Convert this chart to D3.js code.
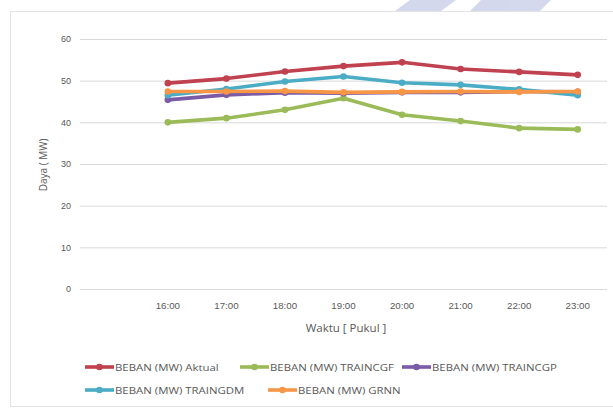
<!DOCTYPE html>
<html>
<head>
<meta charset="utf-8">
<script src="https://cdn.jsdelivr.net/npm/d3@7/dist/d3.min.js"></script>
<style>
  html, body { margin: 0; padding: 0; background: #ffffff; }
  svg { display: block; font-family: "Open Sans", "Liberation Sans", sans-serif; }
</style>
</head>
<body>
<svg id="chart" width="613" height="409"></svg>
<script>
// Hourly load (MW), actual vs. model outputs
const hours = ["", "16:00", "17:00", "18:00", "19:00", "20:00", "21:00", "22:00", "23:00"];
const yTicks = [0, 10, 20, 30, 40, 50, 60];

const seriesNames = [
  "BEBAN (MW) Aktual",
  "BEBAN (MW) TRAINCGF",
  "BEBAN (MW) TRAINCGP",
  "BEBAN (MW) TRAINGDM",
  "BEBAN (MW) GRNN"
];
const aktual   = [49.4, 50.5, 52.2, 53.5, 54.4, 52.8, 52.1, 51.4];
const traincgf = [40.0, 41.0, 43.0, 45.8, 41.8, 40.3, 38.6, 38.3];
const traincgp = [45.4, 46.6, 47.1, 47.0, 47.2, 47.2, 47.4, 47.3];
const traingdm = [46.5, 48.0, 49.8, 51.0, 49.5, 49.0, 47.9, 46.5];
const grnn     = [47.4, 47.4, 47.5, 47.2, 47.3, 47.4, 47.3, 47.4];
const seriesColors = ["#c0414f", "#9bbb59", "#7b5aa6", "#4bacc6", "#f79646"];

const seriesValues = [aktual, traincgf, traincgp, traingdm, grnn];
const dataHours = hours.slice(1);

const svg = d3.select("#chart");
const textColor = "#595959";

// faint decorative band along the top edge
const deco = svg.append("g").attr("fill", "#cdd2ea").attr("opacity", 0.85);
deco.append("path").attr("d", "M410,0 L456,0 L441,11 L395,11 Z");
deco.append("path").attr("d", "M481,0 L551,0 L540,11 L470,11 Z");

// chart area frame
svg.append("rect")
  .attr("x", 10.5).attr("y", 11.5)
  .attr("width", 620).attr("height", 395)
  .attr("fill", "#ffffff")
  .attr("stroke", "#e3e3e3");

const plot = { left: 80, right: 607, top: 39, bottom: 289 };

const x = d3.scaleBand().domain(hours).range([plot.left, plot.right]);
const y = d3.scaleLinear().domain([0, 60]).range([plot.bottom, plot.top]);

// horizontal gridlines + value labels
const yAxis = d3.axisLeft(y).tickValues(yTicks).tickSize(-(plot.right - plot.left)).tickPadding(9);
const gy = svg.append("g").attr("transform", `translate(${plot.left},0)`).call(yAxis);
gy.select(".domain").remove();
gy.selectAll(".tick line").attr("stroke", "#d9d9d9").attr("stroke-width", 1);
gy.selectAll(".tick text").attr("fill", textColor).attr("font-size", 9);

// category labels
const xAxis = d3.axisBottom(x).tickSize(0).tickPadding(14);
const gx = svg.append("g").attr("transform", `translate(0,${plot.bottom})`).call(xAxis);
gx.select(".domain").remove();
gx.selectAll(".tick text").attr("fill", textColor).attr("font-size", 9)
  .attr("transform", "scale(1.08,1)");

// axis titles
svg.append("text")
  .attr("transform", "translate(47,165) rotate(-90)")
  .attr("text-anchor", "middle")
  .attr("fill", textColor).attr("font-size", 10)
  .text("Daya ( MW)");
svg.append("text")
  .attr("transform", "translate(346,332) scale(1.15,1)")
  .attr("text-anchor", "middle")
  .attr("fill", textColor).attr("font-size", 10)
  .text("Waktu [ Pukul ]");

// series lines with markers
const cx = (d, i) => x(dataHours[i]) + x.bandwidth() / 2;
const line = d3.line().x(cx).y(d => y(d));

seriesValues.forEach((vals, s) => {
  const g = svg.append("g");
  g.append("path")
    .datum(vals)
    .attr("d", line)
    .attr("fill", "none")
    .attr("stroke", seriesColors[s])
    .attr("stroke-width", 3.6)
    .attr("stroke-linejoin", "round")
    .attr("stroke-linecap", "round");
  g.selectAll("circle")
    .data(vals)
    .join("circle")
    .attr("cx", cx)
    .attr("cy", d => y(d))
    .attr("r", 3.3)
    .attr("fill", seriesColors[s]);
});

// legend
const legendSlots = [
  { x: 85, y: 367 }, { x: 240, y: 367 }, { x: 402, y: 367 },
  { x: 85, y: 390 }, { x: 268, y: 390 }
];
seriesNames.forEach((name, s) => {
  const slot = legendSlots[s];
  const g = svg.append("g").attr("transform", `translate(${slot.x},${slot.y})`);
  g.append("line")
    .attr("x1", 0).attr("x2", 29).attr("y1", 0).attr("y2", 0)
    .attr("stroke", seriesColors[s]).attr("stroke-width", 3.6);
  g.append("circle").attr("cx", 14.5).attr("cy", 0).attr("r", 3.3).attr("fill", seriesColors[s]);
  g.append("text")
    .attr("transform", "translate(30,3.5) scale(1.2,1)")
    .attr("fill", textColor).attr("font-size", 9.5)
    .text(name);
});
</script>
</body>
</html>
